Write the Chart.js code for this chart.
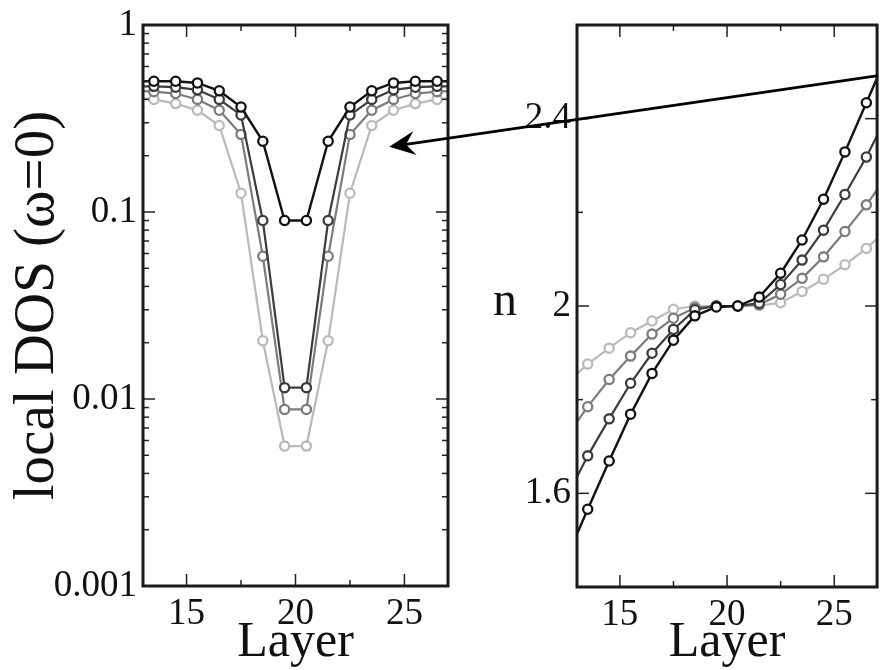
<!DOCTYPE html>
<html>
<head>
<meta charset="utf-8">
<script src="https://cdn.jsdelivr.net/npm/chart.js@4.4.1/dist/chart.umd.min.js"></script>
<style>
  html, body { margin: 0; padding: 0; background: #fff; }
  #wrap { position: relative; width: 884px; height: 670px; overflow: hidden; background: #fff; }
  canvas { position: absolute; top: 0; }
  #cL { left: 0; }
  #cR { left: 462px; }
  #ov { left: 0; pointer-events: none; }
</style>
</head>
<body>
<div id="wrap">
  <canvas id="cL" width="462" height="670"></canvas>
  <canvas id="cR" width="422" height="670"></canvas>
  <canvas id="ov" width="884" height="670"></canvas>
</div>
<script>
// ---------------- data ----------------
const layers = [12.5, 13.5, 14.5, 15.5, 16.5, 17.5, 18.5, 19.5, 20.5, 21.5, 22.5, 23.5, 24.5, 25.5, 26.5, 27.5];

// local DOS (omega = 0), left panel (log axis)
const dosBlack = [0.50, 0.50, 0.50, 0.49, 0.445, 0.364, 0.239, 0.090, 0.090, 0.239, 0.364, 0.445, 0.49, 0.50, 0.50, 0.50];
const dosDark  = [0.47, 0.47, 0.465, 0.45, 0.40, 0.33, 0.090, 0.0115, 0.0115, 0.090, 0.33, 0.40, 0.45, 0.465, 0.47, 0.47];
const dosMid   = [0.445, 0.44, 0.43, 0.40, 0.35, 0.26, 0.058, 0.0088, 0.0088, 0.058, 0.26, 0.35, 0.40, 0.43, 0.44, 0.445];
const dosLight = [0.41, 0.40, 0.38, 0.35, 0.29, 0.126, 0.0205, 0.0056, 0.0056, 0.0205, 0.126, 0.29, 0.35, 0.38, 0.40, 0.41];

// occupation n, right panel
const nBlack = [1.46, 1.566, 1.669, 1.769, 1.856, 1.927, 1.979, 1.998, 2.000, 2.019, 2.070, 2.141, 2.228, 2.329, 2.434, 2.54];
const nDark  = [1.59, 1.680, 1.759, 1.835, 1.899, 1.950, 1.992, 2.000, 2.000, 2.006, 2.046, 2.098, 2.162, 2.238, 2.318, 2.41];
const nMid   = [1.72, 1.785, 1.843, 1.893, 1.940, 1.974, 1.996, 2.000, 2.000, 2.003, 2.025, 2.059, 2.105, 2.159, 2.216, 2.28];
const nLight = [1.835, 1.876, 1.910, 1.943, 1.968, 1.993, 2.000, 2.000, 2.000, 2.001, 2.007, 2.031, 2.057, 2.088, 2.123, 2.165];

// ticks
const layerRange = [13, 27];
const layerTicks = [15, 20, 25];
const layerTickLabels = ['15', '20', '25'];
const layerMinor = [17.5, 22.5];
const dosRange = [0.001, 1];
const dosTicks = [0.001, 0.01, 0.1, 1];
const dosTickLabels = ['0.001', '0.01', '0.1', '1'];
const dosMinor = [0.002,0.003,0.004,0.005,0.006,0.007,0.008,0.009,
                  0.02,0.03,0.04,0.05,0.06,0.07,0.08,0.09,
                  0.2,0.3,0.4,0.5,0.6,0.7,0.8,0.9];
const nRange = [1.4, 2.6];
const nTicks = [1.6, 2.0, 2.4];
const nTickLabels = ['1.6', '2', '2.4'];
const nMinor = [1.8, 2.2];

// arrow annotation (tip in left panel data coords, tail in right panel data coords)
const arrowTip = { layer: 24.3, dos: 0.223 };
const arrowTail = { layer: 27.05, n: 2.492 };

// ---------------- styling ----------------
const FONT = '"Liberation Serif", "Times New Roman", "DejaVu Serif", serif';
const seriesColors = ['#111111', '#3c3c3c', '#7c7c7c', '#bababa'];
const seriesWidths = [2.4, 2.2, 2.2, 2.2];

function makeSets(arrs) {
  return arrs.map((arr, i) => ({
    data: layers.map((l, k) => ({ x: l, y: arr[k] })),
    borderColor: seriesColors[i],
    borderWidth: seriesWidths[i],
    pointRadius: 4.6,
    pointBorderWidth: 2.3,
    pointBorderColor: seriesColors[i],
    pointBackgroundColor: '#ffffff',
    tension: 0,
    clip: 0
  }));
}

const framePlugin = {
  id: 'frame',
  afterDatasetsDraw(chart, args, opts) {
    const { ctx, chartArea: a } = chart;
    const x = chart.scales.x, y = chart.scales.y;
    ctx.save();
    ctx.strokeStyle = '#222';
    ctx.lineWidth = 1.5;
    const seg = (x1, y1, x2, y2) => { ctx.beginPath(); ctx.moveTo(x1, y1); ctx.lineTo(x2, y2); ctx.stroke(); };
    const xt = (v, len) => { const p = x.getPixelForValue(v); seg(p, a.bottom, p, a.bottom - len); seg(p, a.top, p, a.top + len); };
    const yt = (v, len) => { const p = y.getPixelForValue(v); seg(a.left, p, a.left + len, p); seg(a.right, p, a.right - len, p); };
    opts.xMajor.forEach(v => xt(v, 12));
    opts.xMinor.forEach(v => xt(v, 6));
    opts.yMajor.forEach(v => yt(v, 12));
    opts.yMinor.forEach(v => yt(v, 6));
    ctx.lineWidth = 3;
    ctx.strokeStyle = '#1a1a1a';
    ctx.strokeRect(a.left, a.top, a.right - a.left, a.bottom - a.top);
    if (opts.sideLabel) {
      ctx.fillStyle = '#111';
      ctx.font = '48px ' + FONT;
      ctx.textAlign = 'center';
      ctx.textBaseline = 'middle';
      ctx.fillText(opts.sideLabel, a.left - 72, (a.top + a.bottom) / 2 - 4);
    }
    ctx.restore();
  }
};

function xScale(height) {
  return {
    type: 'linear', min: layerRange[0], max: layerRange[1],
    grid: { display: false }, border: { display: false },
    afterBuildTicks: s => { s.ticks = layerTicks.map(v => ({ value: v })); },
    afterFit: s => { s.height = height; },
    ticks: {
      autoSkip: false, maxRotation: 0, padding: 2, color: '#111',
      font: { family: FONT, size: 37, lineHeight: 1 },
      callback: (v, i) => layerTickLabels[i]
    },
    title: { display: true, text: 'Layer', color: '#111', font: { family: FONT, size: 50, lineHeight: 1 }, padding: { top: 0, bottom: 2 } }
  };
}

const common = {
  responsive: false,
  animation: false,
  events: [],
  plugins: { legend: { display: false }, tooltip: { enabled: false } }
};

const chartL = new Chart(document.getElementById('cL'), {
  type: 'line',
  data: { datasets: makeSets([dosBlack, dosDark, dosMid, dosLight]) },
  options: Object.assign({}, common, {
    layout: { padding: { top: 25, right: 14, left: 0, bottom: 0 } },
    scales: {
      x: xScale(84),
      y: {
        type: 'logarithmic', min: dosRange[0], max: dosRange[1],
        grid: { display: false }, border: { display: false },
        afterBuildTicks: s => { s.ticks = dosTicks.map(v => ({ value: v })); },
        afterFit: s => { s.width = 143; },
        ticks: {
          autoSkip: false, padding: -2, color: '#111',
          font: { family: FONT, size: 37, lineHeight: 1 },
          callback: (v, i) => dosTickLabels[i]
        },
        title: { display: true, text: 'local DOS (ω=0)', color: '#111', font: { family: FONT, size: 57, lineHeight: 1 }, padding: { top: 10, bottom: 0 } }
      }
    },
    plugins: Object.assign({}, common.plugins, {
      frame: { xMajor: layerTicks, xMinor: layerMinor, yMajor: dosTicks, yMinor: dosMinor }
    })
  }),
  plugins: [framePlugin]
});

const chartR = new Chart(document.getElementById('cR'), {
  type: 'line',
  data: { datasets: makeSets([nBlack, nDark, nMid, nLight]) },
  options: Object.assign({}, common, {
    layout: { padding: { top: 25, right: 1, left: 0, bottom: 0 } },
    scales: {
      x: xScale(83),
      y: {
        type: 'linear', min: nRange[0], max: nRange[1],
        grid: { display: false }, border: { display: false },
        afterBuildTicks: s => { s.ticks = nTicks.map(v => ({ value: v })); },
        afterFit: s => { s.width = 115; },
        ticks: {
          autoSkip: false, padding: -2, color: '#111',
          font: { family: FONT, size: 37, lineHeight: 1 },
          callback: (v, i) => nTickLabels[i]
        },
        title: { display: false }
      }
    },
    plugins: Object.assign({}, common.plugins, {
      frame: { xMajor: layerTicks, xMinor: layerMinor, yMajor: nTicks, yMinor: nMinor, sideLabel: 'n' }
    })
  }),
  plugins: [framePlugin]
});

// ---------------- arrow overlay ----------------
(function drawArrow() {
  const ov = document.getElementById('ov').getContext('2d');
  const offR = 462;
  const tx = chartL.scales.x.getPixelForValue(arrowTip.layer);
  const ty = chartL.scales.y.getPixelForValue(arrowTip.dos);
  const sx = offR + chartR.scales.x.getPixelForValue(arrowTail.layer);
  const sy = chartR.scales.y.getPixelForValue(arrowTail.n);
  const ang = Math.atan2(ty - sy, tx - sx);
  const L = 26, W = 12, notch = 17;
  const bx = tx - Math.cos(ang) * L, by = ty - Math.sin(ang) * L;
  const nx = tx - Math.cos(ang) * notch, ny = ty - Math.sin(ang) * notch;
  const px = -Math.sin(ang), py = Math.cos(ang);
  ov.strokeStyle = '#000';
  ov.lineWidth = 2.8;
  ov.beginPath();
  ov.moveTo(sx, sy);
  ov.lineTo(nx, ny);
  ov.stroke();
  ov.fillStyle = '#000';
  ov.beginPath();
  ov.moveTo(tx, ty);
  ov.lineTo(bx + px * W, by + py * W);
  ov.lineTo(nx, ny);
  ov.lineTo(bx - px * W, by - py * W);
  ov.closePath();
  ov.fill();
})();
</script>
</body>
</html>
